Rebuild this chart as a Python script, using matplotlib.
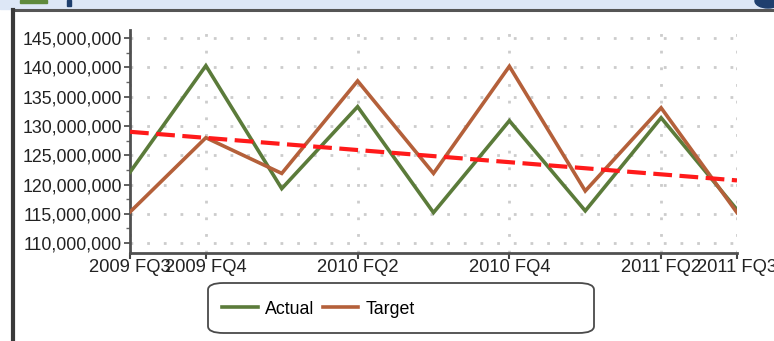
import numpy as np
import matplotlib.pyplot as plt
from matplotlib.patches import FancyBboxPatch, Rectangle, Ellipse
from matplotlib.lines import Line2D
from matplotlib.ticker import FuncFormatter, MultipleLocator

plt.rcParams['font.family'] = ['Liberation Sans', 'DejaVu Sans']

quarters = ['2009 FQ3', '2009 FQ4', '2010 FQ1', '2010 FQ2', '2010 FQ3',
            '2010 FQ4', '2011 FQ1', '2011 FQ2', '2011 FQ3']
actual = [122.1, 140.3, 119.3, 133.3, 115.2, 130.9, 115.5, 131.4, 115.7]
target = [115.3, 128.0, 121.9, 137.7, 121.9, 140.2, 118.9, 133.1, 115.2]
shown_labels = ['2009 FQ3', '2009 FQ4', '2010 FQ2', '2010 FQ4', '2011 FQ2', '2011 FQ3']

x = np.arange(len(quarters))
actual_v = np.array(actual) * 1e6
target_v = np.array(target) * 1e6

fig = plt.figure(figsize=(7.74, 3.41), dpi=100)

# window chrome: header strip, frame lines
fig.patches.append(Rectangle((0, 1 - 9 / 341), 1, 9 / 341, transform=fig.transFigure,
                             color='#dde7f6', zorder=0))
fig.patches.append(Rectangle((20 / 774, 1 - 3 / 341), 27 / 774, 3 / 341, transform=fig.transFigure,
                             color='#5f8a3c', zorder=1))
fig.patches.append(Rectangle((67 / 774, 1 - 6 / 341), 4 / 774, 6 / 341, transform=fig.transFigure,
                             color='#1f3f6e', zorder=1))
fig.patches.append(Ellipse((768 / 774, 1 - 1 / 341), 26 / 774, 14 / 341, transform=fig.transFigure,
                           color='#1f3f6e', zorder=1))
fig.lines.append(Line2D([13 / 774, 1], [1 - 10 / 341] * 2, transform=fig.transFigure,
                        color='#555555', lw=2.2))
fig.lines.append(Line2D([13 / 774] * 2, [0, 1 - 10 / 341], transform=fig.transFigure,
                        color='#3a3a3a', lw=3))

ax = fig.add_axes([130 / 774, 1 - 253 / 341, 607 / 774, 223 / 341])

ax.plot(x, actual_v, color='#5b7b3a', lw=2.6, label='Actual', zorder=3, solid_joinstyle='miter')
ax.plot(x, target_v, color='#b4603a', lw=2.6, label='Target', zorder=3, solid_joinstyle='miter')

# linear trend of actual
k, b = np.polyfit(x, actual_v, 1)
ax.plot(x[[0, -1]], k * x[[0, -1]] + b, color='#ff1a1a', lw=3, dashes=(4.5, 1.8), zorder=4)

ax.set_xlim(0, len(quarters) - 1)
ax.set_ylim(108.3e6, 146.4e6)

tick_pos = [quarters.index(q) for q in shown_labels]
ax.set_xticks(tick_pos)
ax.set_xticklabels(shown_labels, fontsize=13.2, color='#222222')
ax.yaxis.set_major_locator(MultipleLocator(5e6))
ax.yaxis.set_minor_locator(MultipleLocator(2.5e6))
ax.yaxis.set_major_formatter(FuncFormatter(lambda v, p: f'{v:,.0f}'))
ax.tick_params(axis='y', labelsize=12.8, labelcolor='#222222', length=4, width=1.2,
               color='#444444', pad=2)
ax.tick_params(axis='y', which='minor', length=3, width=1, color='#666666')
ax.tick_params(axis='x', length=4, width=1.5, color='#444444', pad=0.5)

ax.grid(True, axis='both', color='#cccccc', lw=2, linestyle=(0, (1, 5)))
ax.set_axisbelow(True)

for side in ['top', 'right']:
    ax.spines[side].set_visible(False)
for side in ['left', 'bottom']:
    ax.spines[side].set_color('#505050')
    ax.spines[side].set_linewidth(2)

# legend in a rounded box
fig.patches.append(FancyBboxPatch((208 / 774, 1 - 333 / 341), 386 / 774, 50 / 341,
                                  boxstyle='round,pad=0,rounding_size=0.02',
                                  transform=fig.transFigure, facecolor='white',
                                  edgecolor='#4a4a4a', lw=1.3, zorder=2))
fig.legend(loc='center left', bbox_to_anchor=(206 / 774, 1 - 309 / 341), ncol=2,
           frameon=False, fontsize=12.8, handlelength=2.0, handletextpad=0.4,
           columnspacing=0.5)

fig.savefig('out.png', dpi=100)
